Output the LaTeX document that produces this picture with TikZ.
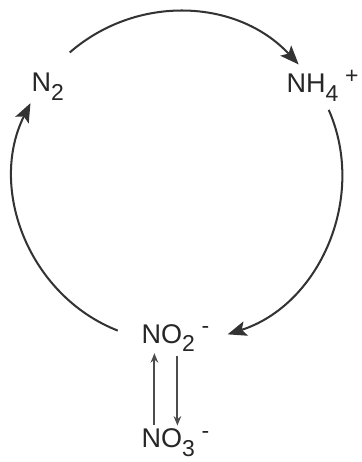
\documentclass[tikz,border=0pt]{standalone}
\usepackage{fontspec}
\setmainfont{Liberation Sans}
\usepackage{tikz}
\usetikzlibrary{arrows.meta,calc}
\newcommand{\sbs}[1]{\raisebox{-3.2pt}{\fontsize{8.5}{8.5}\selectfont #1}}
\newcommand{\sps}[1]{\hspace{2.5pt}\raisebox{3.6pt}{\fontsize{8.5}{8.5}\selectfont #1}}

\begin{document}
\begin{tikzpicture}[
  x=0.37pt,y=0.37pt,
  species/.style={inner sep=0pt,anchor=base west,font=\fontsize{10}{12}\selectfont,text=black!85},
  cyc/.style={line width=0.75pt,draw=black!80,-{Stealth[length=7pt,width=5.5pt,inset=1.5pt]}},
  redox/.style={line width=0.7pt,draw=black!70,-{Stealth[length=3.5pt,width=2.8pt]}},
]
  \useasboundingbox (0,0) rectangle (361,462);
  \node[species] (n2) at (31,370) {N\sbs{2}};
  \node[species] (nh4) at (286,369) {NH\sbs{4}\sps{+}};
  \node[species] (no2) at (141,119) {NO\sbs{2}\sps{-}};
  \node[species] (no3) at (141,14) {NO\sbs{3}\sps{-}};
  \coordinate (c) at (178,285);
  \coordinate (fix) at ($(c)+(131:165)$);
  \coordinate (fixend) at ($(c)+(43:165)$);
  \coordinate (nit) at ($(c)+(24:165)$);
  \coordinate (nitend) at ($(c)+(-72.5:165)$);
  \coordinate (den) at ($(c)+(248.6:165)$);
  \coordinate (denend) at ($(c)+(153.4:165)$);
  \draw[cyc] (fix) to[bend left=44] (fixend);
  \draw[cyc] (nit) to[bend left=48] (nitend);
  \draw[cyc] (den) to[bend left=47.6] (denend);
  \draw[redox] ($(no3.north)+(-21,4)$) -- ($(no2.south)+(-21,-1)$);
  \draw[redox] ($(no2.south)+(2,-4)$) -- ($(no3.north)+(2,3)$);
\end{tikzpicture}
\end{document}
